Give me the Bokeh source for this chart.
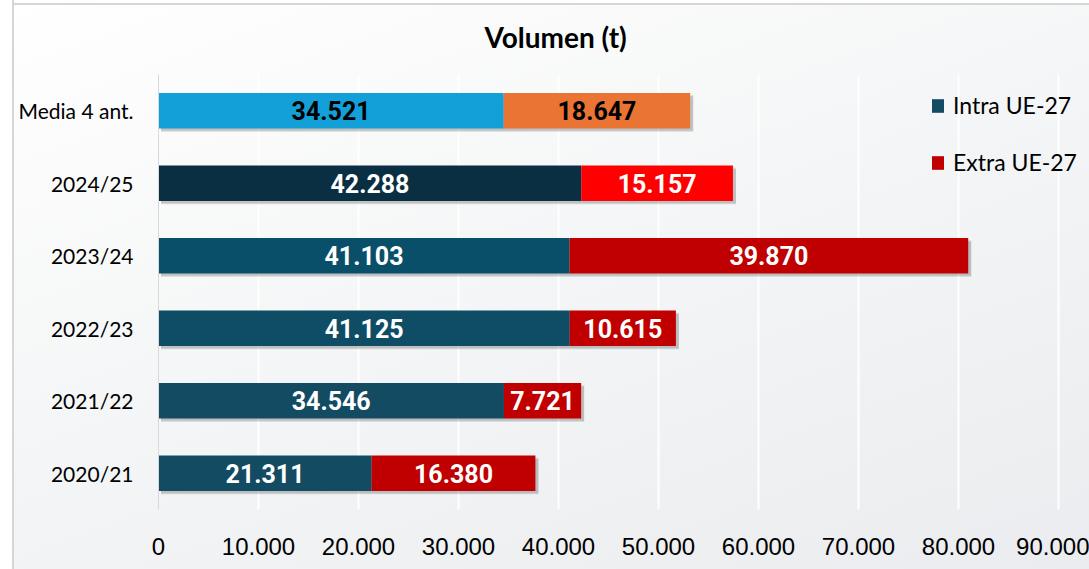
from bokeh.plotting import figure
from bokeh.models import (ColumnDataSource, FactorRange, Legend, LegendItem, Range1d,
                          FixedTicker, CustomJSTickFormatter)
from bokeh.transform import dodge
from bokeh.core.properties import value
from bokeh.embed import file_html
from bokeh.resources import INLINE

categories = ["2020/21", "2021/22", "2022/23", "2023/24", "2024/25", "Media 4 ant."]
intra = [21311, 34546, 41125, 41103, 42288, 34521]
extra = [16380, 7721, 10615, 39870, 15157, 18647]
intra_colors = ["#134b63", "#134b63", "#0f4c66", "#094f6a", "#0b2f42", "#13a0d8"]
extra_colors = ["#c00000", "#c00000", "#c00000", "#c00000", "#ff0000", "#ea7434"]
label_colors = ["white", "white", "white", "white", "white", "black"]
x_ticks = [0, 10000, 20000, 30000, 40000, 50000, 60000, 70000, 80000, 90000]
series_names = ["Intra UE-27", "Extra UE-27"]
series_colors = ["#134b63", "#c00000"]


def fmt(v):
    return f"{v:,}".replace(",", ".")


totals = [a + b for a, b in zip(intra, extra)]
src = ColumnDataSource(dict(
    cat=categories,
    intra=intra,
    extra=extra,
    total=totals,
    zero=[0] * len(categories),
    ic=intra_colors,
    ec=extra_colors,
    lc=label_colors,
    intra_mid=[a / 2 for a in intra],
    extra_mid=[a + b / 2 for a, b in zip(intra, extra)],
    intra_lbl=[fmt(v) for v in intra],
    extra_lbl=[fmt(v) for v in extra],
    shadow_l=[250] * len(categories),
    shadow_r=[t + 300 for t in totals],
))

p = figure(
    width=1089, height=569,
    y_range=FactorRange(*categories, range_padding=0),
    x_range=Range1d(0, 93100),
    output_backend="svg", toolbar_location=None,
    min_border_left=158, min_border_right=0, min_border_top=71, min_border_bottom=60,
)
p.styles = {
    "background": "linear-gradient(to right, #ffffff 0px, #ffffff 12px, #d6d6d6 12px, #d6d6d6 14px, transparent 14px), "
                  "linear-gradient(to bottom, #ffffff 0px, #ffffff 3px, #d6d6d6 3px, #d6d6d6 5px, transparent 5px), "
                  "linear-gradient(160deg, #ffffff 0%, #f4f5f6 50%, #ebecef 100%)"
}
p.background_fill_alpha = 0
p.border_fill_alpha = 0
p.outline_line_color = None

p.title.text = "Volumen (t)"
p.title.text_font = "Lato"
p.title.text_font_style = "bold"
p.title.text_font_size = "28px"
p.title.text_color = "#000000"
p.title.align = "left"
p.title.offset = 326
p.title.standoff = 38
p.title.vertical_align = "top"

# shadows
p.hbar(y=dodge("cat", -0.045, range=p.y_range), left="shadow_l", right="shadow_r", height=0.49,
       source=src, fill_color="#000000", fill_alpha=0.13, line_color=None)
p.hbar(y=dodge("cat", -0.03, range=p.y_range), left="shadow_l", right="shadow_r", height=0.49,
       source=src, fill_color="#000000", fill_alpha=0.10, line_color=None)

p.hbar(y="cat", left="zero", right="intra", height=0.49, source=src,
       fill_color="ic", line_color=None)
p.hbar(y="cat", left="intra", right="total", height=0.49, source=src,
       fill_color="ec", line_color=None)

p.text(x="intra_mid", y="cat", text="intra_lbl", source=src, text_color="lc",
       text_font=value("Roboto"), text_font_style="bold", text_font_size="25px",
       text_align="center", text_baseline="middle")
p.text(x="extra_mid", y="cat", text="extra_lbl", source=src, text_color="lc",
       text_font=value("Roboto"), text_font_style="bold", text_font_size="25px",
       text_align="center", text_baseline="middle")

# legend (dummy bars outside the visible range)
items = []
for name, col in zip(series_names, series_colors):
    r = p.hbar(y=[categories[0]], left=[-60000], right=[-50000], height=0.1,
               fill_color=col, line_color=None)
    items.append(LegendItem(label=name, renderers=[r]))
legend = Legend(items=items, location=(772, 333), orientation="vertical",
                glyph_width=15, glyph_height=17, label_height=20, spacing=29,
                padding=0, margin=0, label_standoff=8,
                label_text_font="Lato", label_text_font_size="23px", label_text_color="#000000",
                background_fill_alpha=0, border_line_color=None)
p.add_layout(legend, "center")

p.xgrid.grid_line_color = "#ffffff"
p.xgrid.grid_line_width = 2
p.ygrid.grid_line_color = None

p.xaxis.ticker = FixedTicker(ticks=x_ticks)
p.xaxis.formatter = CustomJSTickFormatter(
    code="return tick.toString().replace(/\\B(?=(\\d{3})+(?!\\d))/g, '.');")
p.xaxis.axis_line_color = None
p.xaxis.major_tick_line_color = None
p.xaxis.minor_tick_line_color = None
p.xaxis.major_label_text_font = "Liberation Sans"
p.xaxis.major_label_text_font_size = "24px"
p.xaxis.major_label_text_color = "#000000"
p.xaxis.major_label_standoff = 22

p.yaxis.axis_line_color = "#d9d9d9"
p.yaxis.axis_line_width = 1
p.yaxis.major_tick_line_color = None
p.yaxis.minor_tick_line_color = None
p.yaxis.major_label_text_font = "Lato"
p.yaxis.major_label_text_font_size = "21px"
p.yaxis.major_label_text_color = "#000000"
p.yaxis.major_label_standoff = 19

open("out.html", "w").write(file_html(p, INLINE))
